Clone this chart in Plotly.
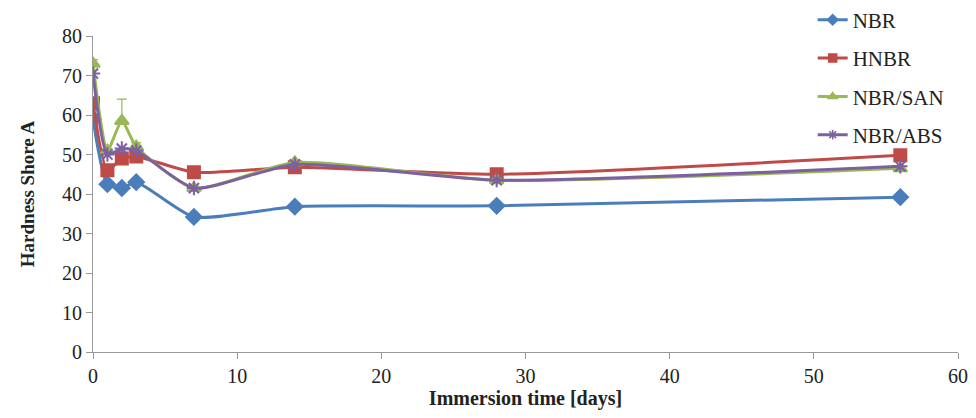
import plotly.graph_objects as go

days = [0, 1, 2, 3, 7, 14, 28, 56]

nbr = [59.0, 42.5, 41.5, 43.0, 34.2, 36.8, 37.0, 39.2]
hnbr = [63.0, 46.0, 49.0, 49.5, 45.5, 46.8, 45.0, 49.8]
nbr_san = [73.0, 51.0, 58.5, 52.0, 41.5, 48.0, 43.5, 46.5]
nbr_abs = [70.5, 50.0, 51.5, 51.0, 41.5, 47.5, 43.5, 47.0]

san_err = [1.0, 0.5, 5.5, 1.0, 0.5, 0.5, 0.5, 0.5]

series = [
    ("NBR", nbr, "#4a7ebb", "diamond", None),
    ("HNBR", hnbr, "#be4b48", "square", None),
    ("NBR/SAN", nbr_san, "#98b954", "triangle-up", san_err),
    ("NBR/ABS", nbr_abs, "#7d60a0", "asterisk-open", None),
]

fig = go.Figure()
for i, (name, vals, col, sym, err) in enumerate(series):
    fig.add_trace(go.Scatter(
        x=days, y=vals, name=name, showlegend=False,
        mode="lines+markers",
        line=dict(color=col, width=3, shape="spline", smoothing=0.6),
        marker=dict(symbol=sym, size=12, color=col,
                    line=dict(color=col, width=2)),
        error_y=dict(type="data", array=err, symmetric=False, arrayminus=[0]*len(days),
                     color="#98b954", thickness=1.2, width=5) if err else None,
    ))
    # legend entry with the smaller marker used in the key
    fig.add_trace(go.Scatter(
        x=[None], y=[None], name=name, legendgroup=str(i),
        mode="lines+markers",
        line=dict(color=col, width=3),
        marker=dict(symbol=sym, size=8, color=col, line=dict(color=col, width=1.5)),
    ))

font = "Liberation Serif, Times New Roman, serif"
fig.update_layout(
    width=976, height=418,
    margin=dict(l=85, r=26, t=28, b=74, autoexpand=False),
    plot_bgcolor="white", paper_bgcolor="white",
    font=dict(family=font, size=20, color="#222"),
    legend=dict(x=0.832, y=1.115, xanchor="left", yanchor="top",
                bgcolor="rgba(0,0,0,0)", font=dict(size=21), itemwidth=30,
                tracegroupgap=8),
    showlegend=True,
)
fig.update_xaxes(range=[0, 60], dtick=10, showgrid=False, zeroline=False,
                 showline=True, linecolor="#999", ticks="outside", ticklen=6,
                 tickcolor="#999", automargin=False,
                 title=dict(text="<b>Immersion time [days]</b>", standoff=4,
                            font=dict(size=20)))
fig.update_yaxes(range=[0, 80], dtick=10, showgrid=False, zeroline=False,
                 showline=True, linecolor="#999", ticks="outside", ticklen=6,
                 tickcolor="#999", automargin=False,
                 title=dict(text="<b>Hardness Shore A</b>", standoff=22,
                            font=dict(size=19)))

fig.write_html("out.html")
